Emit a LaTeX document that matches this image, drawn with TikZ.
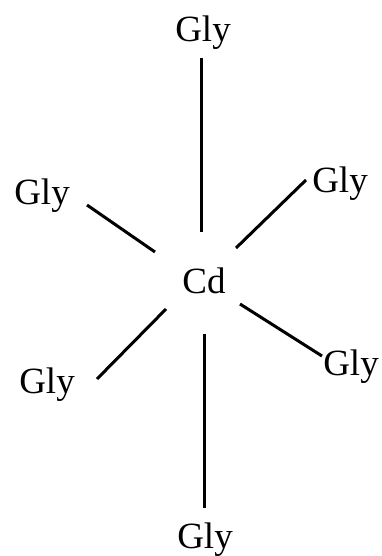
\documentclass[tikz,border=0pt]{standalone}
\usepackage{fontspec}
\setmainfont{Liberation Serif}
\tikzset{
  lbl/.style={inner sep=0pt, anchor=base, font=\fontsize{37}{44}\selectfont},
  bond/.style={line width=3pt, black}
}
\begin{document}
\begin{tikzpicture}[x=1pt,y=-1pt]
\useasboundingbox (0,0) rectangle (382,556);
\node[lbl] (gtop) at (203,42) {Gly};
\node[lbl] (gul) at (42,204) {Gly};
\node[lbl] (gur) at (340,192) {Gly};
\node[lbl] (cd) at (204,293) {Cd};
\node[lbl] (glr) at (351,375) {Gly};
\node[lbl] (gll) at (47,393) {Gly};
\node[lbl] (gbot) at (205,548) {Gly};
\coordinate (t1) at (201,58);  \coordinate (t2) at (201,232);
\coordinate (ul1) at (87,205); \coordinate (ul2) at (155,252);
\coordinate (ur1) at (306,180); \coordinate (ur2) at (236,248);
\coordinate (ll1) at (166,309); \coordinate (ll2) at (97,379);
\coordinate (lr1) at (240,304); \coordinate (lr2) at (322,356);
\coordinate (b1) at (204,334); \coordinate (b2) at (204,508);
\draw[bond] (t1) -- (t2);
\draw[bond] (ul1) -- (ul2);
\draw[bond] (ur1) -- (ur2);
\draw[bond] (ll1) -- (ll2);
\draw[bond] (lr1) -- (lr2);
\draw[bond] (b1) -- (b2);
\end{tikzpicture}
\end{document}
